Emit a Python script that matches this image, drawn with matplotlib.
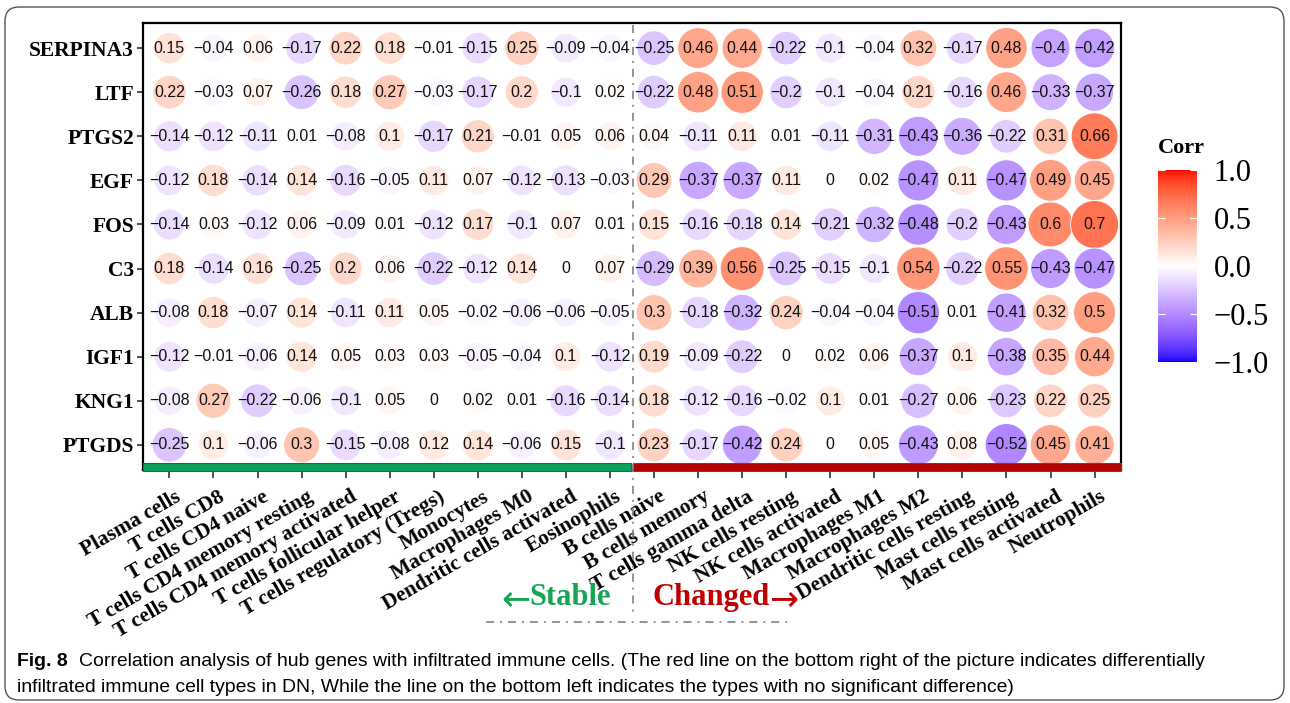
import numpy as np
import matplotlib
matplotlib.use("Agg")
import matplotlib.pyplot as plt
from matplotlib.colors import ListedColormap, Normalize
from matplotlib.cm import ScalarMappable
from matplotlib.patches import Rectangle, FancyBboxPatch
from matplotlib.transforms import ScaledTranslation
from matplotlib import font_manager

plt.rcParams['lines.scale_dashes'] = False

genes = ["SERPINA3", "LTF", "PTGS2", "EGF", "FOS", "C3", "ALB", "IGF1", "KNG1", "PTGDS"]
cells = ["Plasma cells", "T cells CD8", "T cells CD4 naive", "T cells CD4 memory resting",
         "T cells CD4 memory activated", "T cells follicular helper", "T cells regulatory (Tregs)",
         "Monocytes", "Macrophages M0", "Dendritic cells activated", "Eosinophils",
         "B cells naive", "B cells memory", "T cells gamma delta", "NK cells resting",
         "NK cells activated", "Macrophages M1", "Macrophages M2", "Dendritic cells resting",
         "Mast cells resting", "Mast cells activated", "Neutrophils"]
n_stable = 11  # first 11 cell types: no significant difference

SERPINA3 = [0.15, -0.04, 0.06, -0.17, 0.22, 0.18, -0.01, -0.15, 0.25, -0.09, -0.04, -0.25, 0.46, 0.44, -0.22, -0.1, -0.04, 0.32, -0.17, 0.48, -0.4, -0.42]
LTF = [0.22, -0.03, 0.07, -0.26, 0.18, 0.27, -0.03, -0.17, 0.2, -0.1, 0.02, -0.22, 0.48, 0.51, -0.2, -0.1, -0.04, 0.21, -0.16, 0.46, -0.33, -0.37]
PTGS2 = [-0.14, -0.12, -0.11, 0.01, -0.08, 0.1, -0.17, 0.21, -0.01, 0.05, 0.06, 0.04, -0.11, 0.11, 0.01, -0.11, -0.31, -0.43, -0.36, -0.22, 0.31, 0.66]
EGF = [-0.12, 0.18, -0.14, 0.14, -0.16, -0.05, 0.11, 0.07, -0.12, -0.13, -0.03, 0.29, -0.37, -0.37, 0.11, 0, 0.02, -0.47, 0.11, -0.47, 0.49, 0.45]
FOS = [-0.14, 0.03, -0.12, 0.06, -0.09, 0.01, -0.12, 0.17, -0.1, 0.07, 0.01, 0.15, -0.16, -0.18, 0.14, -0.21, -0.32, -0.48, -0.2, -0.43, 0.6, 0.7]
C3 = [0.18, -0.14, 0.16, -0.25, 0.2, 0.06, -0.22, -0.12, 0.14, 0, 0.07, -0.29, 0.39, 0.56, -0.25, -0.15, -0.1, 0.54, -0.22, 0.55, -0.43, -0.47]
ALB = [-0.08, 0.18, -0.07, 0.14, -0.11, 0.11, 0.05, -0.02, -0.06, -0.06, -0.05, 0.3, -0.18, -0.32, 0.24, -0.04, -0.04, -0.51, 0.01, -0.41, 0.32, 0.5]
IGF1 = [-0.12, -0.01, -0.06, 0.14, 0.05, 0.03, 0.03, -0.05, -0.04, 0.1, -0.12, 0.19, -0.09, -0.22, 0, 0.02, 0.06, -0.37, 0.1, -0.38, 0.35, 0.44]
KNG1 = [-0.08, 0.27, -0.22, -0.06, -0.1, 0.05, 0, 0.02, 0.01, -0.16, -0.14, 0.18, -0.12, -0.16, -0.02, 0.1, 0.01, -0.27, 0.06, -0.23, 0.22, 0.25]
PTGDS = [-0.25, 0.1, -0.06, 0.3, -0.15, -0.08, 0.12, 0.14, -0.06, 0.15, -0.1, 0.23, -0.17, -0.42, 0.24, 0, 0.05, -0.43, 0.08, -0.52, 0.45, 0.41]

cbar_ticks = [-1.0, -0.5, 0.0, 0.5, 1.0]
caption_bold = "Fig. 8"
caption_line1 = "Correlation analysis of hub genes with infiltrated immune cells. (The red line on the bottom right of the picture indicates differentially"
caption_line2 = "infiltrated immune cell types in DN, While the line on the bottom left indicates the types with no significant difference)"

corr = np.array([SERPINA3, LTF, PTGS2, EGF, FOS, C3, ALB, IGF1, KNG1, PTGDS])

# ---------- Lab-interpolated diverging palette (blue - white - red) ----------
M = np.array([[0.4124, 0.3576, 0.1805], [0.2126, 0.7152, 0.0722], [0.0193, 0.1192, 0.9505]])
WP = np.array([0.95047, 1.0, 1.08883])

def rgb2lab(rgb):
    c = np.asarray(rgb, float)
    lin = np.where(c <= 0.04045, c / 12.92, ((c + 0.055) / 1.055) ** 2.4)
    xyz = M @ lin / WP
    f = np.where(xyz > 0.008856, np.cbrt(xyz), 7.787 * xyz + 16 / 116)
    return np.array([116 * f[1] - 16, 500 * (f[0] - f[1]), 200 * (f[1] - f[2])])

def lab2rgb(lab):
    L, a, b = lab
    fy = (L + 16) / 116
    fx = fy + a / 500
    fz = fy - b / 200
    f = np.array([fx, fy, fz])
    xyz = np.where(f ** 3 > 0.008856, f ** 3, (f - 16 / 116) / 7.787) * WP
    lin = np.linalg.solve(M, xyz)
    lin = np.clip(lin, 0, 1)
    c = np.where(lin <= 0.0031308, 12.92 * lin, 1.055 * lin ** (1 / 2.4) - 0.055)
    return np.clip(c, 0, 1)

lab_lo, lab_mid, lab_hi = rgb2lab([0, 0, 1]), rgb2lab([1, 1, 1]), rgb2lab([1, 0, 0])
cols = []
for t in np.linspace(-1, 1, 257):
    if t < 0:
        lab = lab_mid + (lab_lo - lab_mid) * (-t)
    else:
        lab = lab_mid + (lab_hi - lab_mid) * t
    cols.append(lab2rgb(lab))
cmap = ListedColormap(cols)
norm = Normalize(-1, 1)

# ---------- figure ----------
W, H = 1290, 703
fig = plt.figure(figsize=(W / 100, H / 100), dpi=100)

def px_rect(l, t, r, b):
    return [l / W, 1 - b / H, (r - l) / W, (b - t) / H]

serif = "Liberation Serif"
ax = fig.add_axes(px_rect(143, 23, 1121, 470))
ax.set_xlim(-0.6, 21.6)
ax.set_ylim(9.57, -0.57)

nr, nc = corr.shape
xx, yy = np.meshgrid(np.arange(nc), np.arange(nr))
vals = corr.ravel()
diam_px = np.where(vals == 0, 0, 27 + 30 * np.abs(vals))
sizes = (diam_px * 0.72) ** 2
ax.scatter(xx.ravel(), yy.ravel(), s=sizes, c=vals, cmap=cmap, norm=norm,
           edgecolors="white", linewidths=0.6, zorder=2)

def fmt(v):
    s = f"{v:g}"
    if s == "-0":
        s = "0"
    return s.replace("-", "\u2212")

for i in range(nr):
    for j in range(nc):
        ax.text(j, i, fmt(corr[i, j]), ha="center", va="center",
                fontsize=11.5, family="Liberation Sans", color="#111111", zorder=3)

ax.set_xticks(np.arange(nc))
ax.set_yticks(np.arange(nr))
ax.set_yticklabels(genes, fontsize=15.5, family=serif, fontweight="bold")
ax.set_xticklabels(cells, fontsize=15.5, family=serif, fontweight="bold",
                   rotation=30, ha="right", va="top", rotation_mode="anchor")
ax.tick_params(axis="x", length=6, width=1.2, pad=6, color="#333333")
ax.tick_params(axis="y", length=4.5, width=1.2, pad=2, color="#333333")
for sp in ax.spines.values():
    sp.set_linewidth(1.6)
    sp.set_color("black")

for lab in ax.get_xticklabels():
    lab.set_transform(lab.get_transform() + ScaledTranslation(5 / 100, 0, fig.dpi_scale_trans))

# bottom strips
div = n_stable - 0.5
ax.add_patch(Rectangle((-0.6, 9.41), div - 0.02 + 0.6, 0.18, facecolor="#0aa35a",
                       edgecolor="#3b4f86", lw=0.8, clip_on=False, zorder=5))
ax.add_patch(Rectangle((div + 0.03, 9.41), 21.6 - div - 0.03, 0.18, facecolor="#b30000",
                       edgecolor="#3b4f86", lw=0.8, clip_on=False, zorder=5))

# ---------- colorbar ----------
cax = fig.add_axes(px_rect(1158, 170, 1197, 362))
cb = fig.colorbar(ScalarMappable(norm=norm, cmap=cmap), cax=cax, ticks=cbar_ticks)
cb.outline.set_visible(False)
cb.set_ticklabels([f"{t:.1f}".replace("-", "\u2212") for t in cbar_ticks])
cax.tick_params(axis="y", direction="in", length=5, width=0.8, colors="white",
                left=True, right=True, labelcolor="black", labelsize=22, pad=12)
for lab in cax.get_yticklabels():
    lab.set_family(serif)
fig.text(1158 / W, 1 - 153 / H, "Corr", family=serif, fontweight="bold",
         fontsize=16, ha="left", va="baseline")

# ---------- overlay (annotations, border, caption) ----------
ov = fig.add_axes([0, 0, 1, 1], zorder=10)
ov.set_xlim(0, W)
ov.set_ylim(H, 0)
ov.axis("off")
ov.patch.set_alpha(0)

ls = (0, (5.8, 4.3, 1.4, 4.3))
ov.plot([633, 633], [25, 616], color="#808080", lw=1.2, linestyle=ls)
ov.plot([486, 790], [622, 622], color="#808080", lw=1.2, linestyle=ls)

green, red = "#17a552", "#c00000"
ov.text(529, 605, "Stable", family=serif, fontweight="bold", fontsize=22,
        color=green, ha="left", va="baseline")
ov.text(530, 609, "\u2190", family="DejaVu Sans", fontsize=25,
        color=green, ha="right", va="baseline")
ov.text(653, 605, "Changed", family=serif, fontweight="bold", fontsize=22,
        color=red, ha="left", va="baseline")
ov.text(769, 609, "\u2192", family="DejaVu Sans", fontsize=25,
        color=red, ha="left", va="baseline")

ov.add_patch(FancyBboxPatch((5, 7), 1279, 693, boxstyle="round,pad=0,rounding_size=14",
                            facecolor="none", edgecolor="#555555", lw=1.0))

# caption
avail = {f.name for f in font_manager.fontManager.ttflist}
cap_font = "Liberation Sans Narrow" if "Liberation Sans Narrow" in avail else "Liberation Sans"
renderer = fig.canvas.get_renderer()
fs = 12
tb = ov.text(17, 661, caption_bold, family=cap_font, fontweight="bold", fontsize=fs,
             ha="left", va="center")
t1 = ov.text(0, 661, caption_line1, family=cap_font, fontsize=fs, ha="left", va="center")
t2 = ov.text(17, 687, caption_line2, family=cap_font, fontsize=fs, ha="left", va="center")

def fit(fsz):
    for t in (tb, t1, t2):
        t.set_fontsize(fsz)
    wb = tb.get_window_extent(renderer).width
    t1.set_x(17 + wb + 0.6 * fsz / 0.72)
    return t1.get_window_extent(renderer).x1

w1 = fit(fs)
fs = fs * (1210 - 17) / (w1 - 17)
fit(fs)

fig.savefig("out.png", dpi=100, facecolor="white")
